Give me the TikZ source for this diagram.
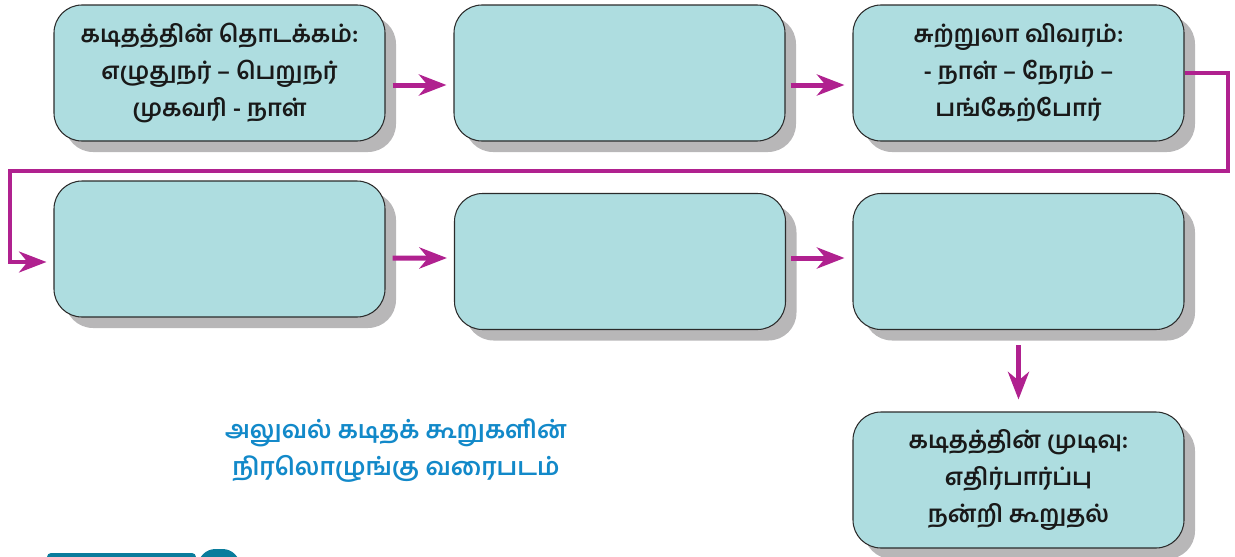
\documentclass[tikz,border=0pt]{standalone}
\usepackage{fontspec}
\newfontfamily\tamilfont[Script=Tamil]{Hind Madurai}
\usetikzlibrary{arrows.meta,positioning,shadows}
\definecolor{PartFill}{HTML}{AEDDE0}
\definecolor{PartEdge}{HTML}{2B2B2B}
\definecolor{PartShade}{HTML}{B8B7B8}
\definecolor{FlowMagenta}{HTML}{B0218F}
\definecolor{CaptionBlue}{HTML}{1289C9}
\definecolor{TabTeal}{HTML}{0A7C9C}
\tikzset{
  part/.style={draw=PartEdge, fill=PartFill, rounded corners=0.56cm,
               minimum width=6.62cm, minimum height=2.72cm, align=center,
               line width=0.6pt, text=black!90,
               font=\tamilfont\bfseries\fontsize{13.5}{21}\selectfont,
               drop shadow={shadow xshift=0.22cm, shadow yshift=-0.22cm,
                            fill=PartShade, opacity=1}},
  caption/.style={align=center, text=CaptionBlue,
                  font=\tamilfont\bfseries\fontsize{14}{21}\selectfont},
  flow/.style={-{Stealth[length=0.55cm, width=0.42cm, inset=0.17cm]},
               line width=0.1cm, draw=FlowMagenta},
  wrap/.style={-{Stealth[length=0.55cm, width=0.42cm, inset=0.17cm]},
               line width=0.07cm, draw=FlowMagenta}
}
\begin{document}
\begin{tikzpicture}
  \useasboundingbox (0,0) rectangle (24.7,-11.14);

  \node[part] (opening) at (4.39,-1.46)
    {கடிதத்தின் தொடக்கம்:\\
     எழுதுநர் – பெறுநர்\\
     முகவரி - நாள்};
  \node[part] (second) at (12.39,-1.46) {};
  \node[part] (tour) at (20.37,-1.46)
    {சுற்றுலா விவரம்:\\
     - நாள் – நேரம் –\\
     பங்கேற்போர்};

  \node[part] (fourth) at (4.39,-4.98) {};
  \node[part] (fifth) at (12.4,-5.23) {};
  \node[part] (sixth) at (20.37,-5.23) {};

  \node[part] (closing) at (20.37,-9.6)
    {கடிதத்தின் முடிவு:\\
     எதிர்பார்ப்பு\\
     நன்றி கூறுதல்};

  \node[caption] (title) at (7.92,-9.02)
    {அலுவல் கடிதக் கூறுகளின்\\
     நிரலொழுங்கு வரைபடம்};

  \draw[flow] ([xshift=0.14cm, yshift=-0.24cm]opening.east)
    -- ([xshift=-0.14cm, yshift=-0.24cm]second.west);
  \draw[flow] ([xshift=0.1cm, yshift=-0.24cm]second.east)
    -- ([xshift=-0.16cm, yshift=-0.24cm]tour.west);

  \coordinate (turnR) at (24.56,-3.42);
  \coordinate (turnL) at (0.2,-3.42);
  \coordinate (entry) at ([xshift=-0.14cm, yshift=-0.26cm]fourth.west);
  \draw[wrap] (tour.east) -- (tour.east -| turnR) -- (turnR) -- (turnL)
    -- (turnL |- entry) -- (entry);

  \draw[flow] ([xshift=0.14cm, yshift=-0.18cm]fourth.east)
    -- ([xshift=-0.14cm, yshift=0.07cm]fifth.west);
  \draw[flow] ([xshift=0.1cm, yshift=0.07cm]fifth.east)
    -- ([xshift=-0.16cm, yshift=0.07cm]sixth.west);

  \draw[flow] ([yshift=-0.3cm]sixth.south) -- ([yshift=0.24cm]closing.north);

  \fill[TabTeal, rounded corners=0.08cm] (0.94,-11.6) rectangle (3.92,-11.06);
  \fill[TabTeal, rounded corners=0.35cm] (3.96,-11.6) rectangle (4.8,-10.98);
\end{tikzpicture}
\end{document}
